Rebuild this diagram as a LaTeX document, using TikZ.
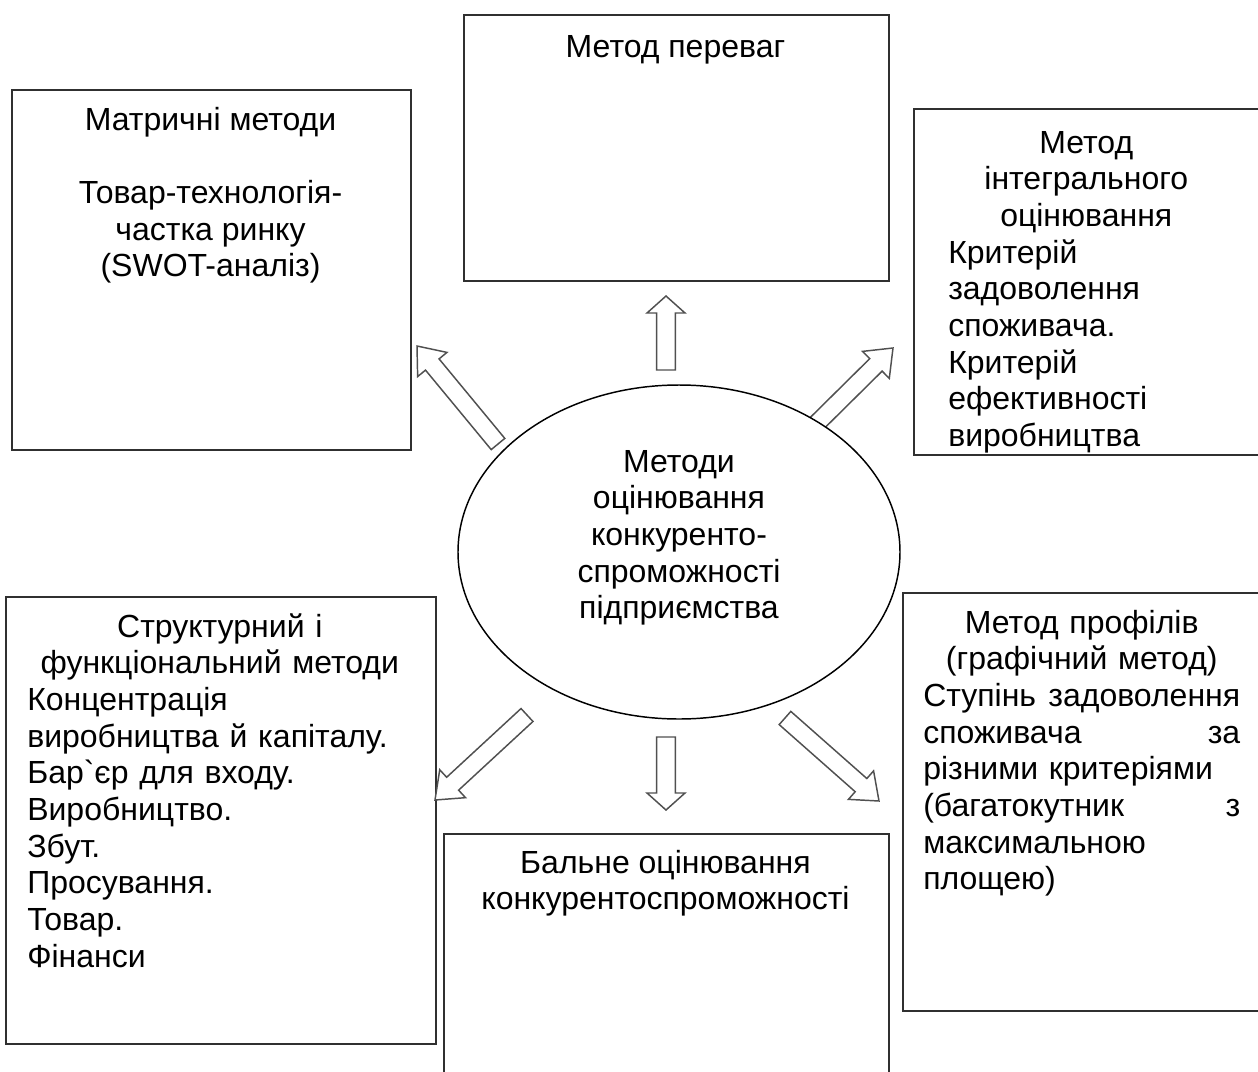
\documentclass[tikz,border=0pt]{standalone}
\usepackage{fontspec}
\setmainfont{Liberation Sans}[Ligatures=TeXOff]
\usetikzlibrary{calc,shapes.geometric}

\definecolor{boxline}{HTML}{303030}
\definecolor{arrline}{HTML}{505050}

\tikzset{
  box/.style={draw=boxline, line width=1.5pt, rectangle, inner sep=0pt, anchor=north west},
  oval/.style={draw=black, line width=1.1pt, fill=white, ellipse, inner sep=0pt},
  blockarr/.style={draw=arrline, line width=1.1pt, fill=white, line join=miter},
  txt/.style={inner sep=0pt, font=\fontsize{24pt}{27.5pt}\selectfont},
}

% #1 tail, #2 tip, #3 head length, #4 shaft half width, #5 head half width
\newcommand{\blockarrow}[5]{%
  \coordinate (ba-n) at ($(#2)!#3!(#1)$);
  \draw[blockarr] ($(#1)!#4!90:(#2)$) -- ($(ba-n)!#4!90:(#2)$) -- ($(ba-n)!#5!90:(#2)$)
    -- (#2) -- ($(ba-n)!#5!-90:(#2)$) -- ($(ba-n)!#4!-90:(#2)$) -- ($(#1)!#4!-90:(#2)$) -- cycle;
}

\begin{document}
\begin{tikzpicture}[x=0.75pt, y=-0.75pt]
\useasboundingbox (0,0) rectangle (1258,1072);
\fill[white] (0,0) rectangle (1258,1072);
\clip (0,0) rectangle (1258,1072);

% boxes
\node[box, minimum width=318.75pt, minimum height=199.5pt] (btop) at (463,14) {};
\node[box, minimum width=299.25pt, minimum height=270pt] (btl) at (11,89) {};
\node[box, minimum width=264pt, minimum height=259.5pt] (btr) at (913,108) {};
\node[box, minimum width=322.5pt, minimum height=335.25pt] (bbl) at (5,596) {};
\node[box, minimum width=333.75pt, minimum height=187.5pt] (bbc) at (443,833) {};
\node[box, minimum width=272.25pt, minimum height=313.5pt] (bbr) at (902,592) {};

% arrow end points
\coordinate (aUt) at (666,370);  \coordinate (aUh) at (666,296);
\coordinate (aDt) at (666,737);  \coordinate (aDh) at (666,810);
\coordinate (aNWt) at (498,444); \coordinate (aNWh) at (417,346);
\coordinate (aNEt) at (800,440); \coordinate (aNEh) at (893,348);
\coordinate (aSWt) at (527,715); \coordinate (aSWh) at (435,800);
\coordinate (aSEt) at (785,718); \coordinate (aSEh) at (879,801);

\blockarrow{aUt}{aUh}{12.75pt}{7.1pt}{14.25pt}
\blockarrow{aDt}{aDh}{12.75pt}{7.1pt}{14.25pt}
\blockarrow{aNWt}{aNWh}{18pt}{6.6pt}{14.25pt}
\blockarrow{aNEt}{aNEh}{18pt}{6.6pt}{14.25pt}
\blockarrow{aSWt}{aSWh}{18pt}{6.6pt}{14.25pt}
\blockarrow{aSEt}{aSEh}{18pt}{6.6pt}{14.25pt}

% central ellipse
\node[oval, minimum width=331.5pt, minimum height=250.5pt] (ell) at (679,552) {};
\node[txt, align=center, anchor=north] (tell) at (679,446.3)
  {\strut Методи\\ оцінювання\\ конкуренто-\\ спроможності\\ підприємства};

% texts
\node[txt, align=center, anchor=north] (ttop) at (675.5,31.3) {\strut Метод переваг};

\node[txt, align=center, anchor=north] (ttl) at (210.5,104.3)
  {\strut Матричні методи\\[27.5pt] Товар-технологія-\\ частка ринку\\ (SWOT-аналіз)};

\begin{scope}
\clip (913,108) rectangle (1265,452);
\node[txt, align=left, anchor=north west, text width=207pt] (ttr) at (948,127.3)
  {\strut\makebox[\hsize]{Метод}\\ \makebox[\hsize]{інтегрального}\\ \makebox[\hsize]{оцінювання}\\
   Критерій\\ задоволення\\ споживача.\\ Критерій\\ ефективності\\ виробництва};
\end{scope}

\node[txt, align=left, anchor=north west, text width=288.75pt] (tbl) at (27,611.3)
  {\strut\makebox[\hsize]{Структурний і}\\ \makebox[\hsize]{функціональний методи}\\
   Концентрація\\ виробництва й капіталу.\\ Бар`єр для входу.\\ Виробництво.\\
   Збут.\\ Просування.\\ Товар.\\ Фінанси};

\node[txt, align=center, anchor=north] (tbc) at (665.5,847.3)
  {\strut Бальне оцінювання\\ конкурентоспроможності};

\node[txt, align=left, anchor=north west, text width=237.75pt] (tbr) at (923,607.3)
  {\strut\makebox[\hsize]{Метод профілів}\\ \makebox[\hsize]{(графічний метод)}\\
   Ступінь\hfill задоволення\\ споживача\hfill за\\ різними критеріями\\
   (багатокутник\hfill з\\ максимальною\\ площею)};
\end{tikzpicture}
\end{document}
